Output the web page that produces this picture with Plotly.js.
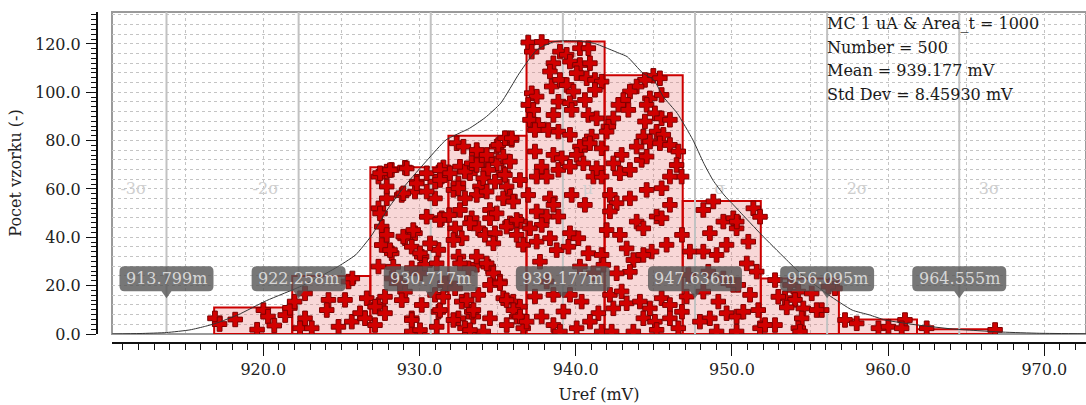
<!DOCTYPE html>
<html><head><meta charset="utf-8">
<script src="https://cdn.plot.ly/plotly-3.0.1.min.js"></script>
<style>html,body{margin:0;padding:0;background:#fff;} #chart{width:1086px;height:405px;}</style>
</head><body><div id="chart"></div>
<script>
// ---- data ----
const binEdges = [916.85, 921.85, 926.85, 931.85, 936.85, 941.85, 946.85, 951.85, 956.85, 961.85, 966.85];
const binCounts = [11, 24, 69, 82, 121, 107, 55, 23, 6, 2];
const sigmaVals = [913.799, 922.258, 930.717, 939.177, 947.636, 956.095, 964.555];
const sigmaNames = ['-3σ', '-2σ', '-σ', 'μ', 'σ', '2σ', '3σ'];
const statLines = ['MC 1 uA &amp; Area_t = 1000', 'Number = 500', 'Mean = 939.177 mV', 'Std Dev = 8.45930 mV'];
const xTickVals = [920, 930, 940, 950, 960, 970];
const yTickVals = [0, 20, 40, 60, 80, 100, 120];

const curveX = [910.3, 912.1, 913.8, 915.3, 916.3, 917.0, 918.4, 920.2, 922.5, 924.6, 925.9, 926.9, 928.0, 929.1, 930.5, 931.7, 933.2, 934.2, 935.2, 936.4, 937.5, 938.6, 939.3, 940.2, 941.2, 942.8, 943.3, 944.3, 945.0, 945.6, 946.5, 947.5, 948.2, 948.8, 949.5, 950.2, 950.5, 951.9, 953.4, 954.5, 956.2, 957.7, 958.8, 959.8, 961.9, 964.1, 967.3, 969.7, 972.7];
const curveY = [0.0, 0.2, 0.6, 1.7, 3.2, 4.5, 8.0, 13.8, 20.0, 27.2, 32.7, 40.5, 52.0, 61.6, 72.0, 80.3, 85.1, 89.5, 95.5, 108.0, 117.5, 120.9, 121.3, 121.2, 120.2, 116.1, 114.7, 107.9, 105.1, 98.2, 91.3, 80.3, 70.6, 63.5, 57.5, 52.7, 50.6, 41.0, 31.3, 24.4, 16.1, 9.9, 7.9, 5.8, 3.7, 2.1, 0.8, 0.3, 0.1];

const sampleX = [
916.9, 917.2, 918.2, 919.6, 920.0, 920.3, 920.7, 921.4, 921.7,
922.0, 922.35, 922.67, 922.67, 923.1, 924.17, 924.06, 924.81, 925.45, 925.66, 926.19, 926.62, 926.51, 925.23, 925.7,
927.37, 927.9, 928.22, 929.07, 929.82, 931.53, 931.42, 931.0,
927.37, 927.9, 927.58, 927.9, 927.58, 928.22, 929.07, 929.71, 929.5, 930.14, 931.21, 927.37, 928.22, 929.5, 930.35, 929.07, 927.37, 927.79, 927.15, 929.5, 929.5, 930.14, 931.21, 931.63, 930.99, 928.86, 929.71, 930.99, 931.42,
927.47, 928.11, 928.96, 929.6, 930.03, 930.67, 930.46, 927.15, 927.79, 928.86, 929.5, 930.03, 931.1, 931.31, 931.52, 928.32, 928.75, 930.03, 931.63, 931.1, 931.31,
927.47, 928.11, 929.18, 927.9, 929.82, 930.46, 931.31, 931.31, 930.46, 928.96,
932.38, 932.81, 933.66, 935.58, 935.9, 934.94, 934.94, 935.37, 934.3, 932.59, 933.23, 931.95, 933.87, 935.58, 932.17, 935.79,
932.91, 933.34, 932.49,
933.66, 934.3, 935.04, 935.47, 935.9, 935.36, 935.79, 933.66, 934.4, 935.47, 934.08, 934.83, 936.43,
933.66, 934.3, 935.36, 936.0, 934.51, 934.51, 933.76, 934.19, 934.83, 935.79, 936.43, 936.22, 936.64, 933.66, 934.4, 934.72, 935.15, 934.51, 933.76, 935.36, 936.0, 936.43, 933.44, 934.51, 935.58, 936.22, 936.64, 934.08,
932.49, 932.91, 931.9, 932.28, 932.7, 933.34, 932.49, 933.13, 932.28, 932.7, 933.34, 932.49, 932.91,
932.59, 933.23, 932.17, 932.59, 933.66, 934.3, 934.73, 933.02, 933.45, 933.23, 932.17, 935.15, 935.58, 936.01, 936.43, 935.58, 936.22, 934.94,
936.96, 937.82, 937.18, 938.57, 938.35, 938.99, 939.42, 939.63, 940.27, 940.81, 940.27, 940.06, 940.91, 940.7, 941.23, 941.66, 941.23, 938.46, 937.18, 937.5, 938.99, 939.42, 939.85, 936.96, 937.28, 938.89, 939.63, 940.59, 939.74, 937.07, 937.6, 937.39, 938.57, 938.24, 938.89, 939.63, 940.81, 941.34, 941.02, 940.59, 940.27, 940.91, 937.39, 938.57, 939.1, 940.06, 940.49, 941.66, 937.82, 937.5, 938.14, 938.89, 939.63, 941.13, 941.66, 941.34,
936.96, 937.5, 938.35, 938.57, 938.14, 938.89, 937.82, 937.07, 937.5, 938.35, 938.78, 937.71, 939.74, 940.59, 939.63, 940.17, 940.81, 941.66, 939.53, 940.27, 941.13, 941.77, 938.14, 937.39, 938.57, 939.63, 940.38, 939.21, 937.82, 936.86, 938.57, 940.06, 941.45, 940.91, 941.66, 938.99,
944.97, 945.39, 944.43, 943.9, 943.47, 943.05, 942.73, 943.37, 944.75, 945.5, 944.54, 945.07, 945.5, 946.03, 944.43, 942.41, 942.09, 941.98, 945.18, 945.61, 944.33, 943.9, 944.75, 945.39, 946.03, 946.57, 942.94, 942.41, 942.83, 943.47, 944.22, 944.54, 946.46, 946.78, 946.03,
942.19, 942.62, 943.47, 944.54, 945.5, 946.03, 945.18, 943.9, 942.19, 941.98, 942.83, 944.33, 945.5, 945.82, 944.86, 943.26, 943.69, 943.47, 942.62, 944.33, 942.19, 942.94, 943.26, 942.41, 944.11, 944.75, 945.5, 946.03, 944.33, 945.07, 946.03, 946.57, 943.69, 942.3, 945.18, 946.8, 947.1, 947.21, 947.31, 946.8,
948.17, 948.81, 949.45, 950.09, 948.59, 948.17, 949.02, 949.66, 950.3, 948.49, 949.45, 950.09, 948.17, 949.13, 949.66, 948.59, 947.95, 950.3, 949.02, 950.3,
951.37, 951.8, 951.05, 950.31, 950.95, 951.59, 950.41, 951.16, 950.73, 951.69, 951.8,
952.76, 953.72, 954.25, 953.4, 954.04, 955.11, 955.75, 954.57, 954.47, 952.76, 954.25, 952.12, 956.6, 956.18, 952.97, 953.51, 954.36, 955.43,
957.24, 957.99, 959.38, 960.02, 961.08, 960.87,
962.47, 966.85
];
const sampleY = [
6.5, 4.1, 6.0, 1.8, 9.9, 7.2, 3.5, 7.8, 10.8,
13.4, 2.4, 16.8, 6.5, 2.4, 14.1, 9.9, 3.0, 21.7, 5.1, 8.6, 14.8, 6.5, 14.1, 23.0,
65.1, 67.2, 67.9, 68.8, 63.0, 68.9, 65.1, 63.0,
52.0, 56.1, 44.4, 41.0, 36.8, 33.4, 39.6, 41.7, 36.1, 32.0, 34.8, 27.9, 23.0, 27.2, 28.6, 17.5, 12.0, 8.6, 3.7, 6.5, 1.0, 12.0, 9.2, 20.3, 16.2, 57.5, 58.9, 56.1, 47.9,
49.9, 34.7, 40.3, 43.0, 33.4, 37.5, 48.5, 11.3, 15.4, 14.0, 5.8, 1.6, 3.0, 9.9, 15.4, 27.8, 21.0, 25.1, 21.0, 29.2, 47.2,
66.5, 67.8, 68.5, 61.0, 62.3, 66.5, 67.8, 63.7, 58.9, 58.2,
78.9, 77.5, 74.7, 81.0, 80.3, 77.5, 70.6, 66.5, 72.0, 69.2, 66.5, 66.5, 61.0, 61.0, 59.6, 56.8,
67.2, 70.6, 62.3,
76.1, 74.1, 78.2, 81.0, 81.0, 73.4, 71.3, 69.9, 67.9, 65.8, 64.4, 63.0, 63.7,
57.5, 58.9, 56.1, 54.8, 51.3, 47.9, 43.7, 41.0, 41.7, 45.8, 46.5, 41.0, 36.9, 28.6, 27.9, 25.1, 21.7, 20.3, 16.2, 14.8, 13.4, 11.3, 7.2, 6.5, 3.7, 7.2, 2.4, 1.0,
60.3, 56.1, 49.2, 43.7, 39.6, 47.9, 32.0, 27.2, 18.9, 13.4, 9.2, 6.5, 2.4,
51.3, 45.8, 38.9, 29.2, 32.0, 29.2, 37.5, 14.0, 9.9, 1.6, 5.8, 21.0, 14.0, 9.9, 7.2, 44.4, 47.2, 49.9,
120.6, 120.8, 116.8, 112.0, 108.6, 116.8, 115.5, 112.7, 118.2, 118.2, 111.3, 107.9, 112.0, 105.8, 105.1, 104.4, 101.0, 102.4, 99.6, 98.2, 105.1, 103.0, 100.3, 94.8, 92.7, 96.1, 95.5, 96.8, 92.7, 88.6, 86.5, 84.4, 90.6, 84.4, 83.7, 82.4, 90.6, 89.2, 81.7, 78.2, 77.5, 78.9, 75.5, 74.1, 72.7, 74.1, 70.6, 76.8, 69.2, 65.1, 65.1, 67.9, 69.2, 65.1, 65.1, 68.6,
57.5, 50.7, 56.1, 53.4, 48.6, 48.6, 45.1, 43.7, 38.2, 39.6, 34.7, 29.9, 57.5, 53.4, 41.7, 39.6, 33.4, 32.7, 36.1, 27.9, 25.1, 28.6, 21.7, 15.5, 16.2, 16.2, 13.4, 9.3, 7.2, 5.1, 3.7, 2.4, 8.6, 5.1, 1.0, 1.0,
106.8, 105.8, 105.1, 102.4, 100.3, 96.8, 94.8, 92.7, 97.5, 98.9, 94.8, 91.3, 89.2, 88.6, 87.9, 89.2, 85.8, 83.7, 83.7, 82.4, 81.7, 77.5, 79.6, 78.9, 78.2, 75.5, 74.1, 70.6, 66.5, 67.9, 72.0, 73.4, 69.9, 65.1, 65.1,
57.5, 54.1, 56.1, 59.6, 60.3, 53.4, 48.6, 46.5, 50.7, 43.0, 41.0, 43.7, 47.9, 36.9, 34.1, 35.4, 30.6, 25.7, 25.1, 32.7, 16.2, 17.6, 12.7, 10.6, 13.4, 10.6, 14.8, 12.0, 6.5, 5.1, 6.5, 2.4, 1.0, 1.0, 1.7, 9.2, 15.5, 24.4, 34.1, 41.0,
51.3, 54.8, 46.5, 47.9, 41.7, 34.1, 32.7, 36.9, 43.7, 25.8, 23.0, 20.3, 17.5, 13.4, 8.6, 6.5, 5.1, 7.2, 1.0, 1.0,
52.0, 48.5, 38.2, 46.5, 29.2, 25.8, 20.3, 16.2, 9.2, 9.9, 2.4,
22.3, 20.3, 17.5, 14.8, 14.1, 16.8, 9.9, 10.6, 6.5, 3.7, 2.4, 3.7, 18.9, 19.6, 15.4, 11.0, 1.0, 9.9,
5.8, 4.4, 2.4, 3.0, 5.8, 2.4,
2.4, 1.7
];

// ---- derived from data ----
const binCenters = binCounts.map((c, i) => (binEdges[i] + binEdges[i + 1]) / 2);
const binWidths = binCounts.map((c, i) => binEdges[i + 1] - binEdges[i]);

const X_RANGE = [910.31, 972.67];
const Y_RANGE = [0, 133.2];
const SERIF = 'DejaVu Serif';

const sigLineX = [], sigLineY = [];
sigmaVals.forEach(v => { sigLineX.push(v, v, null); sigLineY.push(Y_RANGE[0], Y_RANGE[1], null); });

const sigLabelX = sigmaVals.map((v, i) => v + (i < 3 ? -1.25 : 1.25));
const sigLabelY = sigmaVals.map(() => 59.6);
const sigLabelPos = sigmaVals.map((v, i) => i < 3 ? 'middle left' : 'middle right');

const traces = [
  { type: 'bar', x: binCenters, y: binCounts, width: binWidths,
    marker: { color: 'rgba(230,110,110,0.28)', line: { color: '#cc0000', width: 2 } },
    hoverinfo: 'skip', xaxis: 'x', yaxis: 'y' },
  { type: 'scatter', mode: 'lines', x: sigLineX, y: sigLineY,
    line: { color: '#c2c2c2', width: 2 }, hoverinfo: 'skip', connectgaps: false },
  { type: 'scatter', mode: 'text', x: sigLabelX, y: sigLabelY, text: sigmaNames,
    textposition: sigLabelPos, textfont: { family: SERIF, size: 16, color: '#cfcfcf' }, hoverinfo: 'skip' },
  { type: 'scatter', mode: 'markers', x: sampleX, y: sampleY,
    marker: { symbol: 'cross', size: 12, color: '#d20000', line: { color: '#7d0000', width: 1 } },
    hoverinfo: 'skip' },
  { type: 'scatter', mode: 'lines', x: curveX, y: curveY,
    line: { color: '#333333', width: 1, shape: 'spline', smoothing: 0.5 }, hoverinfo: 'skip' },
  { type: 'scatter', x: [], y: [], xaxis: 'x2', yaxis: 'y2', hoverinfo: 'skip' }
];

const calloutPath = 'M 0,0 L 5,7 L 42,7 Q 47,7 47,12 L 47,27 Q 47,32 42,32 L -42,32 Q -47,32 -47,27 L -47,12 Q -47,7 -42,7 L -5,7 Z';
const CALLOUT_Y = 14.8;

const shapes = [
  { type: 'rect', xref: 'x domain', yref: 'y domain', x0: 0, x1: 1, y0: 0, y1: 1,
    line: { color: '#9a9a9a', width: 2 }, layer: 'below' }
];
sigmaVals.forEach(v => shapes.push({
  type: 'path', xref: 'x', yref: 'y', xsizemode: 'pixel', ysizemode: 'pixel',
  xanchor: v, yanchor: CALLOUT_Y, path: calloutPath,
  fillcolor: 'rgba(85,85,85,0.8)', line: { width: 0 }, layer: 'above'
}));

const annotations = [];
sigmaVals.forEach(v => annotations.push({
  x: v, y: CALLOUT_Y, xref: 'x', yref: 'y', yshift: 19.5, showarrow: false,
  text: v.toFixed(3) + 'm', font: { family: SERIF, size: 16, color: '#d6d6d6' },
  xanchor: 'center', yanchor: 'middle'
}));
statLines.forEach((t, i) => annotations.push({
  x: 0.7364, y: (342 - (23.3 + 23.7 * i)) / 330, xref: 'paper', yref: 'paper',
  text: t, showarrow: false, xanchor: 'left', yanchor: 'middle', align: 'left',
  font: { family: SERIF, size: 16, color: '#1a1a1a' }
}));

const tickFont = { family: SERIF, size: 16, color: '#222' };

const layout = {
  width: 1086, height: 405,
  font: { family: SERIF, size: 16, color: '#222' },
  margin: { l: 96, r: 0, t: 12, b: 63, pad: 0 },
  paper_bgcolor: '#ffffff', plot_bgcolor: '#ffffff',
  showlegend: false, bargap: 0,
  xaxis: { domain: [16 / 990, 1], range: X_RANGE, autorange: false, anchor: 'y',
    showgrid: true, tick0: 0, dtick: 5, griddash: 'dot', gridcolor: '#c4c4c4', gridwidth: 1,
    ticks: '', showticklabels: false, showline: false, zeroline: false },
  yaxis: { domain: [8 / 330, 1], range: Y_RANGE, autorange: false, anchor: 'x',
    showgrid: true, tick0: 0, dtick: 4, griddash: 'dot', gridcolor: '#c4c4c4', gridwidth: 1,
    ticks: '', showticklabels: false, showline: false, zeroline: false },
  xaxis2: { overlaying: 'x', range: X_RANGE, autorange: false, anchor: 'free', position: 0,
    tickmode: 'array', tickvals: xTickVals, tickformat: '.1f',
    ticks: 'outside', ticklen: 12, tickwidth: 1, tickcolor: '#111',
    showline: true, linecolor: '#111', linewidth: 1.5, showgrid: false, zeroline: false,
    minor: { tick0: 0, dtick: 1, ticks: 'outside', ticklen: 6, tickwidth: 1, tickcolor: '#111', showgrid: false },
    tickfont: tickFont,
    title: { text: 'Uref (mV)', font: { family: SERIF, size: 16, color: '#222' }, standoff: 11 } },
  yaxis2: { overlaying: 'y', range: Y_RANGE, autorange: false, anchor: 'free', position: 0, side: 'left',
    tickmode: 'array', tickvals: yTickVals, tickformat: '.1f',
    ticks: 'outside', ticklen: 10, tickwidth: 1, tickcolor: '#111',
    showline: true, linecolor: '#111', linewidth: 1.5, showgrid: false, zeroline: false,
    minor: { tick0: 0, dtick: 2, ticks: 'outside', ticklen: 5, tickwidth: 1, tickcolor: '#111', showgrid: false },
    tickfont: tickFont, ticklabelstandoff: 2,
    title: { text: 'Pocet vzorku (-)', font: { family: SERIF, size: 16, color: '#222' }, standoff: 8 } },
  shapes: shapes,
  annotations: annotations
};

Plotly.newPlot('chart', traces, layout, { displayModeBar: false, staticPlot: true });
</script>
</body></html>
